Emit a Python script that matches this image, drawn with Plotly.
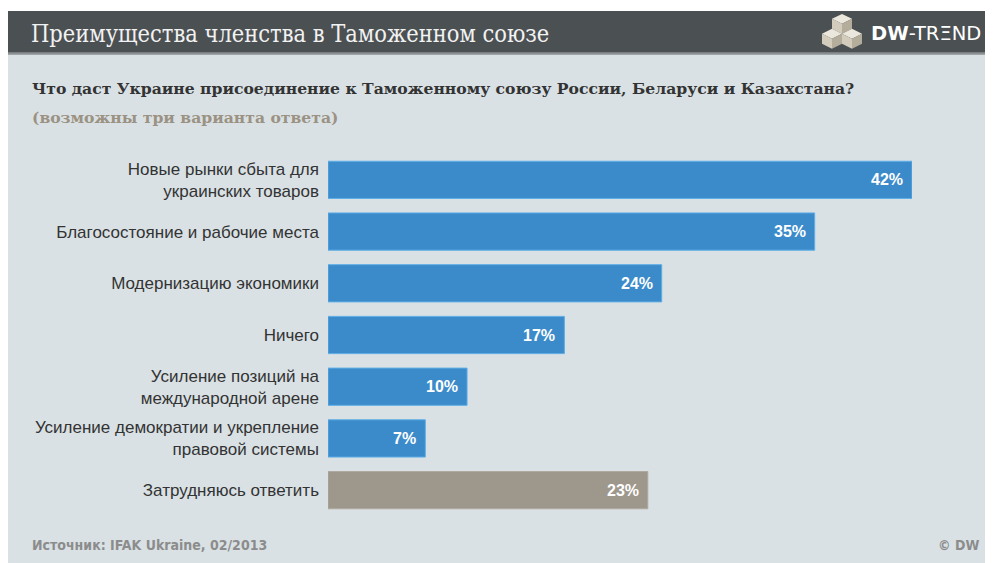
import plotly.graph_objects as go

categories = [
    "Новые рынки сбыта для<br>украинских товаров",
    "Благосостояние и рабочие места",
    "Модернизацию экономики",
    "Ничего",
    "Усиление позиций на<br>международной арене",
    "Усиление демократии и укрепление<br>правовой системы",
    "Затрудняюсь ответить",
]
values = [42, 35, 24, 17, 10, 7, 23]
value_labels = ["42%", "35%", "24%", "17%", "10%", "7%", "23%"]
bar_colors = ["#3b8bcb"] * 6 + ["#9e978c"]
line_colors = ["#5eaee6"] * 6 + ["#b0a99f"]

# page body has an 8px margin; work in screenshot coordinates and offset
OX, OY = 8, 8
W, H = 993 - OX, 563 - OY
L, R = 328, 912
T, B = 153.5, 516.5

def px(x):
    return (x - L) / (R - L)

def py(y):
    return (B - y) / (B - T)

fig = go.Figure()
fig.add_trace(go.Bar(
    x=values, y=categories, orientation="h",
    marker=dict(color=bar_colors, line=dict(color=line_colors, width=1)),
    width=0.72, hoverinfo="skip",
))

annotations = []
for c, v, t in zip(categories, values, value_labels):
    annotations.append(dict(
        x=v, y=c, xref="x", yref="y", text=t, showarrow=False,
        xanchor="right", xshift=-7,
        font=dict(family="Liberation Sans, Arial, sans-serif", size=16, color="white", weight="bold"),
    ))

annotations += [
    dict(x=px(29), y=py(33), xref="paper", yref="paper", xanchor="left", yanchor="middle",
         text="Преимущества членства в Таможенном союзе", showarrow=False,
         font=dict(family="DejaVu Serif Condensed, DejaVu Serif, serif", size=23.4, color="#f2f2f2")),
    dict(x=px(30), y=py(88), xref="paper", yref="paper", xanchor="left", yanchor="middle",
         text="Что даст Украине присоединение к Таможенному союзу России, Беларуси и Казахстана?",
         showarrow=False,
         font=dict(family="DejaVu Serif, serif", size=15.6, color="#333333", weight="bold")),
    dict(x=px(30), y=py(117), xref="paper", yref="paper", xanchor="left", yanchor="middle",
         text="(возможны три варианта ответа)", showarrow=False,
         font=dict(family="DejaVu Serif, serif", size=15.6, color="#9b9283", weight="bold")),
    dict(x=px(30), y=py(546), xref="paper", yref="paper", xanchor="left", yanchor="middle",
         text="Источник: IFAK Ukraine, 02/2013", showarrow=False,
         font=dict(family="DejaVu Sans Condensed, sans-serif", size=14,
                   color="#8c8c8c", weight="bold")),
    dict(x=px(981), y=py(546), xref="paper", yref="paper", xanchor="right", yanchor="middle",
         text="© DW", showarrow=False,
         font=dict(family="DejaVu Sans Condensed, sans-serif", size=14,
                   color="#8c8c8c", weight="bold")),
    dict(x=px(983), y=py(33), xref="paper", yref="paper", xanchor="right", yanchor="middle",
         text="<b>DW</b>-TRΞND", showarrow=False,
         font=dict(family="DejaVu Sans, sans-serif", size=19.5, color="#ffffff")),
]

shapes = [
    dict(type="rect", xref="paper", yref="paper", x0=px(8), x1=px(1000), y0=py(570), y1=py(52),
         fillcolor="#d9e1e5", line=dict(width=0), layer="below"),
    dict(type="rect", xref="paper", yref="paper", x0=px(8), x1=px(1000), y0=py(52), y1=py(10),
         fillcolor="#4b5053", line=dict(width=0), layer="below"),
    dict(type="rect", xref="paper", yref="paper", x0=px(8), x1=px(1000), y0=py(54), y1=py(52),
         fillcolor="#8a8f92", line=dict(width=0), layer="below"),
]

def poly(points, color):
    d = "M " + " L ".join(f"{px(x):.5f},{py(y):.5f}" for x, y in points) + " Z"
    return dict(type="path", xref="paper", yref="paper", path=d,
                fillcolor=color, line=dict(width=0), layer="above")

# logo: three isometric cubes
cube_w, cube_h = 20, 20
for cx, y0 in [(842, 13), (832, 28), (852, 28)]:
    hw = cube_w / 2
    shapes.append(poly([(cx, y0), (cx + hw, y0 + cube_h * 0.25), (cx, y0 + cube_h * 0.5),
                        (cx - hw, y0 + cube_h * 0.25)], "#ece7dc"))
    shapes.append(poly([(cx - hw, y0 + cube_h * 0.25), (cx, y0 + cube_h * 0.5), (cx, y0 + cube_h),
                        (cx - hw, y0 + cube_h * 0.75)], "#d3ccbd"))
    shapes.append(poly([(cx + hw, y0 + cube_h * 0.25), (cx, y0 + cube_h * 0.5), (cx, y0 + cube_h),
                        (cx + hw, y0 + cube_h * 0.75)], "#b5ad9c"))

fig.update_layout(
    width=W, height=H,
    margin=dict(l=L - OX, r=993 - R, t=T - OY, b=563 - B, pad=0),
    paper_bgcolor="white", plot_bgcolor="rgba(0,0,0,0)",
    showlegend=False,
    xaxis=dict(range=[0, 42], visible=False, fixedrange=True),
    yaxis=dict(categoryorder="array", categoryarray=categories, range=[6.5, -0.5],
               showgrid=False, zeroline=False, showline=False, ticks="",
               ticklabelstandoff=8, fixedrange=True,
               tickfont=dict(family="Liberation Sans, Arial, sans-serif", size=17, color="#333333")),
    annotations=annotations, shapes=shapes,
)

fig.write_html("out.html")
